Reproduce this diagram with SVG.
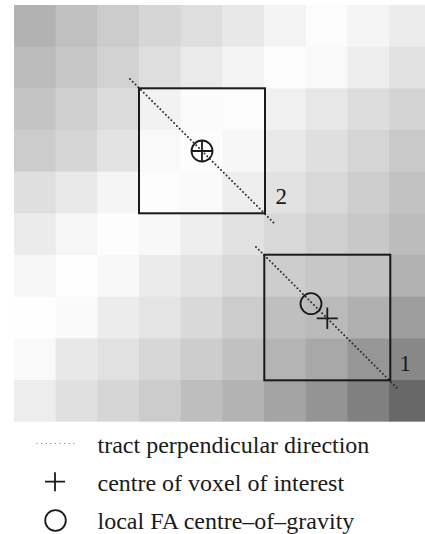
<svg xmlns="http://www.w3.org/2000/svg" width="425" height="534" viewBox="0 0 425 534">
<style>
.box{fill:none;stroke:#1a1a1a;stroke-width:2}
.sym{fill:none;stroke:#1a1a1a;stroke-width:1.8}
.dots{fill:none;stroke:#2a2a2a;stroke-width:2;stroke-linecap:round;stroke-dasharray:0 3.9}
.ldots{fill:none;stroke:#666;stroke-width:1.2;stroke-linecap:round;stroke-dasharray:0 4.6}
.lbl{font-family:"Liberation Serif","Times New Roman",serif;font-size:23px;fill:#1a1a1a}
.leg{font-family:"Liberation Serif","Times New Roman",serif;font-size:24px;fill:#1a1a1a}
</style>
<rect width="425" height="534" fill="#ffffff"/>
<g id="grid">
<g transform="translate(14,5)">
<rect x="0" y="0" width="42.2" height="42.2" fill="rgb(178,178,178)"/><rect x="41.67" y="0" width="42.2" height="42.2" fill="rgb(192,192,192)"/><rect x="83.33" y="0" width="42.2" height="42.2" fill="rgb(204,204,204)"/><rect x="125" y="0" width="42.2" height="42.2" fill="rgb(214,214,214)"/><rect x="166.67" y="0" width="42.2" height="42.2" fill="rgb(222,222,222)"/><rect x="208.33" y="0" width="42.2" height="42.2" fill="rgb(232,232,232)"/><rect x="250" y="0" width="42.2" height="42.2" fill="rgb(243,243,243)"/><rect x="291.67" y="0" width="42.2" height="42.2" fill="rgb(252,252,252)"/><rect x="333.33" y="0" width="42.2" height="42.2" fill="rgb(245,245,245)"/><rect x="375" y="0" width="42.2" height="42.2" fill="rgb(236,236,236)"/>
<rect x="0" y="41.67" width="42.2" height="42.2" fill="rgb(188,188,188)"/><rect x="41.67" y="41.67" width="42.2" height="42.2" fill="rgb(198,198,198)"/><rect x="83.33" y="41.67" width="42.2" height="42.2" fill="rgb(210,210,210)"/><rect x="125" y="41.67" width="42.2" height="42.2" fill="rgb(222,222,222)"/><rect x="166.67" y="41.67" width="42.2" height="42.2" fill="rgb(234,234,234)"/><rect x="208.33" y="41.67" width="42.2" height="42.2" fill="rgb(244,244,244)"/><rect x="250" y="41.67" width="42.2" height="42.2" fill="rgb(253,253,253)"/><rect x="291.67" y="41.67" width="42.2" height="42.2" fill="rgb(249,249,249)"/><rect x="333.33" y="41.67" width="42.2" height="42.2" fill="rgb(238,238,238)"/><rect x="375" y="41.67" width="42.2" height="42.2" fill="rgb(226,226,226)"/>
<rect x="0" y="83.33" width="42.2" height="42.2" fill="rgb(196,196,196)"/><rect x="41.67" y="83.33" width="42.2" height="42.2" fill="rgb(208,208,208)"/><rect x="83.33" y="83.33" width="42.2" height="42.2" fill="rgb(220,220,220)"/><rect x="125" y="83.33" width="42.2" height="42.2" fill="rgb(242,242,242)"/><rect x="166.67" y="83.33" width="42.2" height="42.2" fill="rgb(251,251,251)"/><rect x="208.33" y="83.33" width="42.2" height="42.2" fill="rgb(252,252,252)"/><rect x="250" y="83.33" width="42.2" height="42.2" fill="rgb(240,240,240)"/><rect x="291.67" y="83.33" width="42.2" height="42.2" fill="rgb(231,231,231)"/><rect x="333.33" y="83.33" width="42.2" height="42.2" fill="rgb(221,221,221)"/><rect x="375" y="83.33" width="42.2" height="42.2" fill="rgb(212,212,212)"/>
<rect x="0" y="125" width="42.2" height="42.2" fill="rgb(204,204,204)"/><rect x="41.67" y="125" width="42.2" height="42.2" fill="rgb(214,214,214)"/><rect x="83.33" y="125" width="42.2" height="42.2" fill="rgb(227,227,227)"/><rect x="125" y="125" width="42.2" height="42.2" fill="rgb(249,249,249)"/><rect x="166.67" y="125" width="42.2" height="42.2" fill="rgb(253,253,253)"/><rect x="208.33" y="125" width="42.2" height="42.2" fill="rgb(247,247,247)"/><rect x="250" y="125" width="42.2" height="42.2" fill="rgb(233,233,233)"/><rect x="291.67" y="125" width="42.2" height="42.2" fill="rgb(223,223,223)"/><rect x="333.33" y="125" width="42.2" height="42.2" fill="rgb(213,213,213)"/><rect x="375" y="125" width="42.2" height="42.2" fill="rgb(201,201,201)"/>
<rect x="0" y="166.67" width="42.2" height="42.2" fill="rgb(223,223,223)"/><rect x="41.67" y="166.67" width="42.2" height="42.2" fill="rgb(233,233,233)"/><rect x="83.33" y="166.67" width="42.2" height="42.2" fill="rgb(245,245,245)"/><rect x="125" y="166.67" width="42.2" height="42.2" fill="rgb(252,252,252)"/><rect x="166.67" y="166.67" width="42.2" height="42.2" fill="rgb(250,250,250)"/><rect x="208.33" y="166.67" width="42.2" height="42.2" fill="rgb(238,238,238)"/><rect x="250" y="166.67" width="42.2" height="42.2" fill="rgb(226,226,226)"/><rect x="291.67" y="166.67" width="42.2" height="42.2" fill="rgb(216,216,216)"/><rect x="333.33" y="166.67" width="42.2" height="42.2" fill="rgb(206,206,206)"/><rect x="375" y="166.67" width="42.2" height="42.2" fill="rgb(194,194,194)"/>
<rect x="0" y="208.33" width="42.2" height="42.2" fill="rgb(235,235,235)"/><rect x="41.67" y="208.33" width="42.2" height="42.2" fill="rgb(246,246,246)"/><rect x="83.33" y="208.33" width="42.2" height="42.2" fill="rgb(253,253,253)"/><rect x="125" y="208.33" width="42.2" height="42.2" fill="rgb(248,248,248)"/><rect x="166.67" y="208.33" width="42.2" height="42.2" fill="rgb(238,238,238)"/><rect x="208.33" y="208.33" width="42.2" height="42.2" fill="rgb(226,226,226)"/><rect x="250" y="208.33" width="42.2" height="42.2" fill="rgb(216,216,216)"/><rect x="291.67" y="208.33" width="42.2" height="42.2" fill="rgb(208,208,208)"/><rect x="333.33" y="208.33" width="42.2" height="42.2" fill="rgb(200,200,200)"/><rect x="375" y="208.33" width="42.2" height="42.2" fill="rgb(188,188,188)"/>
<rect x="0" y="250" width="42.2" height="42.2" fill="rgb(247,247,247)"/><rect x="41.67" y="250" width="42.2" height="42.2" fill="rgb(254,254,254)"/><rect x="83.33" y="250" width="42.2" height="42.2" fill="rgb(248,248,248)"/><rect x="125" y="250" width="42.2" height="42.2" fill="rgb(235,235,235)"/><rect x="166.67" y="250" width="42.2" height="42.2" fill="rgb(227,227,227)"/><rect x="208.33" y="250" width="42.2" height="42.2" fill="rgb(216,216,216)"/><rect x="250" y="250" width="42.2" height="42.2" fill="rgb(205,205,205)"/><rect x="291.67" y="250" width="42.2" height="42.2" fill="rgb(199,199,199)"/><rect x="333.33" y="250" width="42.2" height="42.2" fill="rgb(192,192,192)"/><rect x="375" y="250" width="42.2" height="42.2" fill="rgb(178,178,178)"/>
<rect x="0" y="291.67" width="42.2" height="42.2" fill="rgb(254,254,254)"/><rect x="41.67" y="291.67" width="42.2" height="42.2" fill="rgb(250,250,250)"/><rect x="83.33" y="291.67" width="42.2" height="42.2" fill="rgb(236,236,236)"/><rect x="125" y="291.67" width="42.2" height="42.2" fill="rgb(228,228,228)"/><rect x="166.67" y="291.67" width="42.2" height="42.2" fill="rgb(217,217,217)"/><rect x="208.33" y="291.67" width="42.2" height="42.2" fill="rgb(204,204,204)"/><rect x="250" y="291.67" width="42.2" height="42.2" fill="rgb(191,191,191)"/><rect x="291.67" y="291.67" width="42.2" height="42.2" fill="rgb(186,186,186)"/><rect x="333.33" y="291.67" width="42.2" height="42.2" fill="rgb(176,176,176)"/><rect x="375" y="291.67" width="42.2" height="42.2" fill="rgb(158,158,158)"/>
<rect x="0" y="333.33" width="42.2" height="42.2" fill="rgb(249,249,249)"/><rect x="41.67" y="333.33" width="42.2" height="42.2" fill="rgb(232,232,232)"/><rect x="83.33" y="333.33" width="42.2" height="42.2" fill="rgb(225,225,225)"/><rect x="125" y="333.33" width="42.2" height="42.2" fill="rgb(215,215,215)"/><rect x="166.67" y="333.33" width="42.2" height="42.2" fill="rgb(205,205,205)"/><rect x="208.33" y="333.33" width="42.2" height="42.2" fill="rgb(193,193,193)"/><rect x="250" y="333.33" width="42.2" height="42.2" fill="rgb(180,180,180)"/><rect x="291.67" y="333.33" width="42.2" height="42.2" fill="rgb(168,168,168)"/><rect x="333.33" y="333.33" width="42.2" height="42.2" fill="rgb(150,150,150)"/><rect x="375" y="333.33" width="42.2" height="42.2" fill="rgb(136,136,136)"/>
<rect x="0" y="375" width="42.2" height="41.67" fill="rgb(237,237,237)"/><rect x="41.67" y="375" width="42.2" height="41.67" fill="rgb(224,224,224)"/><rect x="83.33" y="375" width="42.2" height="41.67" fill="rgb(214,214,214)"/><rect x="125" y="375" width="42.2" height="41.67" fill="rgb(204,204,204)"/><rect x="166.67" y="375" width="42.2" height="41.67" fill="rgb(190,190,190)"/><rect x="208.33" y="375" width="42.2" height="41.67" fill="rgb(179,179,179)"/><rect x="250" y="375" width="42.2" height="41.67" fill="rgb(164,164,164)"/><rect x="291.67" y="375" width="42.2" height="41.67" fill="rgb(148,148,148)"/><rect x="333.33" y="375" width="42.2" height="41.67" fill="rgb(128,128,128)"/><rect x="375" y="375" width="42.2" height="41.67" fill="rgb(104,104,104)"/>
</g>
</g>
<g id="connectors">
<line class="dots" x1="130" y1="79" x2="274" y2="223"/>
<line class="dots" x1="256" y1="247" x2="399" y2="390"/>
</g>
<g id="voxel2">
<rect class="box" x="139" y="88.3" width="126" height="125"/>
<circle class="sym" cx="202" cy="151" r="10.5"/>
<path class="sym" d="M191.5,151H212.5M202,140.5V161.5"/>
<text class="lbl" x="275.5" y="203.5">2</text>
</g>
<g id="voxel1">
<rect class="box" x="264.3" y="254.7" width="126" height="125.6"/>
<circle class="sym" cx="311" cy="303.7" r="10.5"/>
<path class="sym" d="M316.8,318.3H337.8M327.3,307.6V329"/>
<text class="lbl" x="399.5" y="370.5">1</text>
</g>
<g id="legend">
<line class="ldots" x1="37" y1="443.5" x2="77.5" y2="443.5"/>
<path class="sym" d="M45,481.7H65M55,472.2V491.2"/>
<circle class="sym" cx="55.5" cy="520.5" r="10.3"/>
<text class="leg" x="97.5" y="453">tract perpendicular direction</text>
<text class="leg" x="97.5" y="491">centre of voxel of interest</text>
<text class="leg" x="97.5" y="529">local FA centre–of–gravity</text>
</g>
</svg>
